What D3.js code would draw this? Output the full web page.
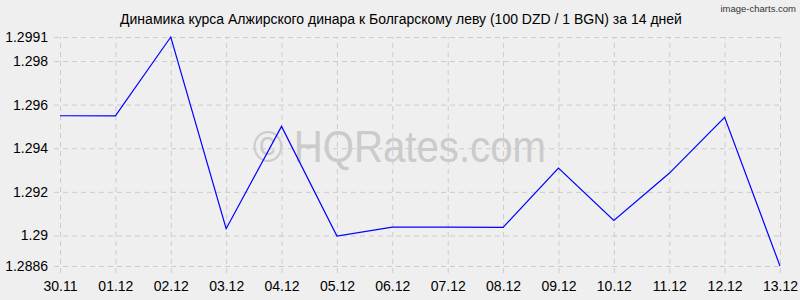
<!DOCTYPE html>
<html>
<head>
<meta charset="utf-8">
<script src="https://cdn.jsdelivr.net/npm/d3@7"></script>
<style>
  body { margin: 0; background: #efefef; }
  svg { display: block; font-family: "Liberation Sans", Arial, sans-serif; }
</style>
</head>
<body>
<svg id="chart" width="800" height="300"></svg>
<script>
const dates = ["30.11", "01.12", "02.12", "03.12", "04.12", "05.12", "06.12",
  "07.12", "08.12", "09.12", "10.12", "11.12", "12.12", "13.12"];
const rates = [1.29549, 1.29548, 1.2991, 1.29031, 1.2950, 1.28997, 1.29038,
  1.29038, 1.29037, 1.29309, 1.29069, 1.29285, 1.29542, 1.2886];
const yTicks = [1.2886, 1.29, 1.292, 1.294, 1.296, 1.298, 1.2991];
const title = "Динамика курса Алжирского динара к Болгарскому леву (100 DZD / 1 BGN) за 14 дней";

const svg = d3.select("#chart"),
  margin = {top: 37, right: 20, bottom: 34, left: 60},
  width = +svg.attr("width") - margin.left - margin.right,
  height = +svg.attr("height") - margin.top - margin.bottom;

svg.append("rect").attr("width", 800).attr("height", 300).attr("fill", "#efefef");

const x = d3.scalePoint().domain(dates).range([0, width]);
const y = d3.scaleLinear().domain([1.2886, 1.2991]).range([height, 0]);

// watermark
svg.append("text")
  .attr("x", 253).attr("y", 162)
  .attr("font-size", 44)
  .attr("textLength", 293)
  .attr("lengthAdjust", "spacingAndGlyphs")
  .attr("fill", "#cbcbcb")
  .text("© HQRates.com");

const g = svg.append("g").attr("transform", "translate(" + margin.left + "," + margin.top + ")");

// horizontal grid
g.append("g")
  .call(d3.axisLeft(y).tickValues(yTicks).tickSize(-width - 6).tickFormat(d3.format("")))
  .attr("transform", "translate(-6,0)")
  .call(a => a.select(".domain").remove())
  .call(a => a.selectAll("line").attr("stroke", "#cccccc").attr("stroke-dasharray", "5,4"))
  .call(a => a.selectAll("text").attr("x", -6).attr("font-size", 14).attr("fill", "#000")
    .attr("font-family", "Liberation Sans, Arial, sans-serif"));

// vertical grid
g.append("g")
  .attr("transform", "translate(0," + (height + 7) + ")")
  .call(d3.axisBottom(x).tickSize(-height - 7).tickPadding(8))
  .call(a => a.select(".domain").remove())
  .call(a => a.selectAll("line").attr("stroke", "#cccccc").attr("stroke-dasharray", "5,4"))
  .call(a => a.selectAll("text").attr("font-size", 14).attr("fill", "#000")
    .attr("font-family", "Liberation Sans, Arial, sans-serif"));

// line
g.append("path")
  .datum(rates)
  .attr("fill", "none")
  .attr("stroke", "#0000ff")
  .attr("stroke-width", 1.2)
  .attr("d", d3.line().x((d, i) => x(dates[i])).y(d => y(d)));

svg.append("text")
  .attr("x", 401).attr("y", 24)
  .attr("text-anchor", "middle")
  .attr("font-size", 14)
  .attr("fill", "#000")
  .text(title);

svg.append("text")
  .attr("x", 796).attr("y", 12)
  .attr("text-anchor", "end")
  .attr("font-size", 9.5)
  .attr("fill", "#333")
  .text("image-charts.com");
</script>
</body>
</html>
